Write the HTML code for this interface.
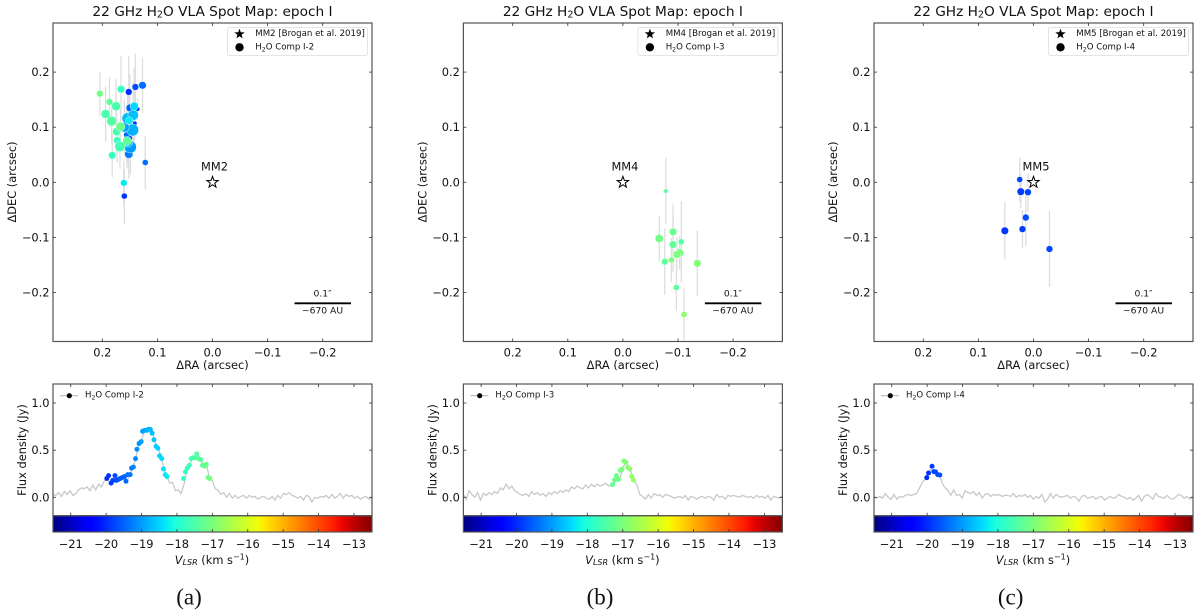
<!DOCTYPE html>
<html lang="en">
<head>
<meta charset="utf-8">
<title>22 GHz H2O VLA Spot Maps</title>
<style>
html,body{margin:0;padding:0;background:#fff;width:1200px;height:616px;overflow:hidden}
svg{display:block;filter:blur(.3px)}
text{font-family:"DejaVu Sans","Liberation Sans",sans-serif;fill:#111}
.title{font-size:13.7px;text-anchor:middle;dominant-baseline:central}
.lab{font-size:11.4px;text-anchor:middle;dominant-baseline:central}
.tick{font-size:11.4px;dominant-baseline:central}
.leg{font-size:8.6px;dominant-baseline:central}
.scale{font-size:9.2px;text-anchor:middle;dominant-baseline:central}
.cap{font-family:"Liberation Serif",serif;font-size:23px;text-anchor:middle;dominant-baseline:central}
.frame{fill:none;stroke:#555;stroke-width:1.2}
</style>
</head>
<body>
<svg id="figure" xmlns="http://www.w3.org/2000/svg" width="1200" height="616" viewBox="0 0 1200 616">
<defs><linearGradient id="jetGrad" x1="0" x2="1" y1="0" y2="0"></linearGradient></defs>

<g id="panel-a">
  <text class="title" x="212.5" y="12">22 GHz H<tspan dy="2.5" font-size="9.6">2</tspan><tspan dy="-2.5">O VLA Spot Map: epoch I</tspan></text>
  <g class="marks"></g>
  <rect class="frame" x="53" y="23" width="319" height="318.5"/>
  <line x1="294.5" x2="351" y1="303.3" y2="303.3" stroke="#000" stroke-width="1.9"/>
  <text class="scale" x="322.5" y="294">0.1″</text>
  <text class="scale" x="322.5" y="311">~670 AU</text>
  <text class="lab" x="214.5" y="166.7">MM2</text>
  <g>
    <rect x="227.5" y="27.5" width="140" height="28" rx="2" fill="#fff" fill-opacity=".85" stroke="#ddd" stroke-width=".8"/>
    <polygon transform="translate(239.5,34)" points="0,-5.4 1.3,-1.7 5.2,-1.6 2.1,.7 3.1,4.4 0,2.2 -3.1,4.4 -2.1,.7 -5.2,-1.6 -1.3,-1.7" fill="#000"/>
    <text class="leg" x="255.3" y="34">MM2 [Brogan et al. 2019]</text>
    <circle cx="239.5" cy="47.3" r="4.2" fill="#000"/>
    <text class="leg" x="255.3" y="47.3">H<tspan dy="2" font-size="6.2">2</tspan><tspan dy="-2">O Comp I-2</tspan></text>
  </g>
  <text class="lab" x="212.5" y="365">ΔRA (arcsec)</text>
  <text class="lab" transform="translate(12,182) rotate(-90)">ΔDEC (arcsec)</text>
  <rect x="53" y="515.7" width="319" height="16.3" fill="url(#jetGrad)"/>
  <g class="spec"></g>
  <rect class="frame" x="53" y="384" width="319" height="131.7"/>
  <rect class="frame" x="53" y="515.7" width="319" height="16.3"/>
  <g>
    <line x1="60" x2="78" y1="395.7" y2="395.7" stroke="#bbb" stroke-width="1.1"/>
    <circle cx="69.3" cy="395.7" r="2.6" fill="#000"/>
    <text class="leg" x="85" y="395.7">H<tspan dy="2" font-size="6.2">2</tspan><tspan dy="-2">O Comp I-2</tspan></text>
  </g>
  <text class="lab" transform="translate(22,450) rotate(-90)">Flux density (Jy)</text>
  <text class="lab" x="212" y="560"><tspan font-style="italic">V</tspan><tspan font-style="italic" font-size="8" dy="2">LSR</tspan><tspan dy="-2"> (km s</tspan><tspan font-size="8" dy="-3.5">−1</tspan><tspan dy="3.5">)</tspan></text>
  <text class="cap" x="189" y="597">(a)</text>
</g>

<g id="panel-b" transform="translate(410.4,0)">
  <text class="title" x="212.5" y="12">22 GHz H<tspan dy="2.5" font-size="9.6">2</tspan><tspan dy="-2.5">O VLA Spot Map: epoch I</tspan></text>
  <g class="marks"></g>
  <rect class="frame" x="53" y="23" width="319" height="318.5"/>
  <line x1="294.5" x2="351" y1="303.3" y2="303.3" stroke="#000" stroke-width="1.9"/>
  <text class="scale" x="322.5" y="294">0.1″</text>
  <text class="scale" x="322.5" y="311">~670 AU</text>
  <text class="lab" x="214.5" y="166.7">MM4</text>
  <g>
    <rect x="227.5" y="27.5" width="140" height="28" rx="2" fill="#fff" fill-opacity=".85" stroke="#ddd" stroke-width=".8"/>
    <polygon transform="translate(239.5,34)" points="0,-5.4 1.3,-1.7 5.2,-1.6 2.1,.7 3.1,4.4 0,2.2 -3.1,4.4 -2.1,.7 -5.2,-1.6 -1.3,-1.7" fill="#000"/>
    <text class="leg" x="255.3" y="34">MM4 [Brogan et al. 2019]</text>
    <circle cx="239.5" cy="47.3" r="4.2" fill="#000"/>
    <text class="leg" x="255.3" y="47.3">H<tspan dy="2" font-size="6.2">2</tspan><tspan dy="-2">O Comp I-3</tspan></text>
  </g>
  <text class="lab" x="212.5" y="365">ΔRA (arcsec)</text>
  <text class="lab" transform="translate(12,182) rotate(-90)">ΔDEC (arcsec)</text>
  <rect x="53" y="515.7" width="319" height="16.3" fill="url(#jetGrad)"/>
  <g class="spec"></g>
  <rect class="frame" x="53" y="384" width="319" height="131.7"/>
  <rect class="frame" x="53" y="515.7" width="319" height="16.3"/>
  <g>
    <line x1="60" x2="78" y1="395.7" y2="395.7" stroke="#bbb" stroke-width="1.1"/>
    <circle cx="69.3" cy="395.7" r="2.6" fill="#000"/>
    <text class="leg" x="85" y="395.7">H<tspan dy="2" font-size="6.2">2</tspan><tspan dy="-2">O Comp I-3</tspan></text>
  </g>
  <text class="lab" transform="translate(22,450) rotate(-90)">Flux density (Jy)</text>
  <text class="lab" x="212" y="560"><tspan font-style="italic">V</tspan><tspan font-style="italic" font-size="8" dy="2">LSR</tspan><tspan dy="-2"> (km s</tspan><tspan font-size="8" dy="-3.5">−1</tspan><tspan dy="3.5">)</tspan></text>
  <text class="cap" x="189.6" y="597">(b)</text>
</g>

<g id="panel-c" transform="translate(821,0)">
  <text class="title" x="212.5" y="12">22 GHz H<tspan dy="2.5" font-size="9.6">2</tspan><tspan dy="-2.5">O VLA Spot Map: epoch I</tspan></text>
  <g class="marks"></g>
  <rect class="frame" x="53" y="23" width="319" height="318.5"/>
  <line x1="294.5" x2="351" y1="303.3" y2="303.3" stroke="#000" stroke-width="1.9"/>
  <text class="scale" x="322.5" y="294">0.1″</text>
  <text class="scale" x="322.5" y="311">~670 AU</text>
  <text class="lab" x="215" y="166.7">MM5</text>
  <g>
    <rect x="227.5" y="27.5" width="140" height="28" rx="2" fill="#fff" fill-opacity=".85" stroke="#ddd" stroke-width=".8"/>
    <polygon transform="translate(239.5,34)" points="0,-5.4 1.3,-1.7 5.2,-1.6 2.1,.7 3.1,4.4 0,2.2 -3.1,4.4 -2.1,.7 -5.2,-1.6 -1.3,-1.7" fill="#000"/>
    <text class="leg" x="255.3" y="34">MM5 [Brogan et al. 2019]</text>
    <circle cx="239.5" cy="47.3" r="4.2" fill="#000"/>
    <text class="leg" x="255.3" y="47.3">H<tspan dy="2" font-size="6.2">2</tspan><tspan dy="-2">O Comp I-4</tspan></text>
  </g>
  <text class="lab" x="212.5" y="365">ΔRA (arcsec)</text>
  <text class="lab" transform="translate(12,182) rotate(-90)">ΔDEC (arcsec)</text>
  <rect x="53" y="515.7" width="319" height="16.3" fill="url(#jetGrad)"/>
  <g class="spec"></g>
  <rect class="frame" x="53" y="384" width="319" height="131.7"/>
  <rect class="frame" x="53" y="515.7" width="319" height="16.3"/>
  <g>
    <line x1="60" x2="78" y1="395.7" y2="395.7" stroke="#bbb" stroke-width="1.1"/>
    <circle cx="69.3" cy="395.7" r="2.6" fill="#000"/>
    <text class="leg" x="85" y="395.7">H<tspan dy="2" font-size="6.2">2</tspan><tspan dy="-2">O Comp I-4</tspan></text>
  </g>
  <text class="lab" transform="translate(22,450) rotate(-90)">Flux density (Jy)</text>
  <text class="lab" x="212" y="560"><tspan font-style="italic">V</tspan><tspan font-style="italic" font-size="8" dy="2">LSR</tspan><tspan dy="-2"> (km s</tspan><tspan font-size="8" dy="-3.5">−1</tspan><tspan dy="3.5">)</tspan></text>
  <text class="cap" x="189.6" y="597">(c)</text>
</g>
</svg>

<script>
// Tick values and labels
const mapTicks = [0.2, 0.1, 0, -0.1, -0.2];
const mapTickLabels = ['0.2', '0.1', '0.0', '−0.1', '−0.2'];
const fluxTicks = [0, 0.5, 1];
const fluxTickLabels = ['0.0', '0.5', '1.0'];
const velocityTicks = [-21, -20, -19, -18, -17, -16, -15, -14, -13];
const velocityTickLabels = ['−21', '−20', '−19', '−18', '−17', '−16', '−15', '−14', '−13'];

// Panel (a) spots: offset (arcsec), uncertainty, flux (Jy), velocity (km/s)
const spotRaA = [.136,.141,.150,.152,.160,.150,.140,.127,.122,.156,.152,.149,.153,.145,.160,.154,.144,.142,.151,.161,.166,.173,.182,.168,.174,.175,.194,.183,.187,.155,.167,.2045];
const spotDecA = [.133,.107,.080,.164,-.025,.135,.173,.176,.036,.086,.051,.064,.072,.095,.100,.116,.122,.138,.112,-.001,.169,.076,.049,.065,.092,.138,.124,.111,.146,.075,.101,.161];
const spotErrA = [.02,.03,.03,.065,.05,.06,.06,.05,.048,.05,.045,.05,.04,.05,.05,.05,.06,.07,.04,.04,.06,.04,.04,.04,.04,.05,.05,.04,.045,.05,.04,.04];
const spotFluxA = [.10,.10,.14,.234,.185,.29,.234,.29,.185,.185,.35,.74,.416,.74,.49,.65,.567,.35,.29,.234,.29,.29,.29,.567,.35,.416,.416,.49,.234,.416,.416,.234];
const spotVelA = [-20,-19.95,-19.85,-19.95,-19.9,-19.5,-19.7,-19.4,-19.4,-19.4,-19.3,-19,-18.75,-18.8,-18.95,-18.7,-18.7,-18.45,-18.3,-18.3,-17.8,-17.7,-17.75,-17.6,-17.55,-17.55,-17.55,-17.45,-17.35,-17.3,-17.2,-17.1];

// Panel (b) spots
const spotRaB = [-.078,-.066,-.091,-.091,-.106,-.103,-.098,-.088,-.076,-.135,-.097,-.111];
const spotDecB = [-.016,-.102,-.090,-.113,-.108,-.128,-.131,-.141,-.144,-.147,-.191,-.240];
const spotErrB = [.06,.042,.05,.05,.074,.03,.03,.04,.06,.059,.043,.047];
const spotFluxB = [.10,.35,.29,.29,.185,.35,.29,.185,.234,.29,.185,.185];
const spotVelB = [-17.4,-17.1,-17.2,-17.3,-17.45,-17.05,-17,-17,-17.3,-16.95,-17.35,-16.8];

// Panel (c) spots
const spotRaC = [.025,.023,.010,.014,.020,.052,-.029];
const spotDecC = [.005,-.017,-.018,-.064,-.085,-.088,-.121];
const spotErrC = [.04,.03,.035,.052,.035,.052,.069];
const spotFluxC = [.185,.29,.234,.234,.234,.29,.234];
const spotVelC = [-19.75,-19.85,-19.8,-19.7,-19.85,-19.9,-19.75];

// Spectra: evenly spaced channels from -21.5 to -12.5 km/s
const spectrumA = [.03,.02,.05,.01,.06,.03,.07,.02,.04,.08,.10,.09,.11,.07,.13,.08,.14,.11,.17,.20,.16,.18,.22,.19,.20,.22,.17,.24,.31,.40,.54,.59,.70,.71,.72,.68,.58,.52,.43,.30,.23,.15,.16,.07,.08,.04,.13,.28,.34,.41,.42,.44,.40,.34,.34,.20,.18,.09,.08,.03,.05,0,.04,-.01,.02,-.01,.01,.02,-.01,.02,0,.01,-.02,0,.01,-.01,-.02,.01,-.03,.02,-.01,.04,.03,.05,.02,.01,-.01,.01,-.03,.02,.01,-.05,0,-.01,.01,0,.02,-.01,.03,-.01,.01,.04,-.01,.03,.01,.02,-.01,.01,-.02,0,.01,-.02,-.01];
const spectrumB = [.03,-.02,.07,.03,0,.05,-.03,.04,.02,.05,.03,.06,.04,.10,.08,.14,.09,.12,.07,.05,.03,.02,.04,.01,.06,.03,.05,.02,.04,.01,.05,.03,.06,.04,.07,.05,.08,.06,.11,.09,.12,.10,.09,.13,.10,.14,.11,.14,.12,.13,.15,.12,.14,.15,.23,.20,.30,.38,.32,.26,.18,.13,.03,.01,-.02,.03,-.01,.04,.02,.03,0,.03,.02,.01,-.01,0,.01,-.01,.02,-.03,.01,0,-.02,0,.01,-.01,.01,0,-.03,.03,0,.01,-.02,.02,.01,.02,.01,0,.02,.01,0,.01,-.01,.02,0,.01,-.01,.02,-.03,.01,0,-.01,.01];
const spectrumC = [0,-.01,.01,-.01,.04,0,-.02,.03,-.02,.01,0,.02,.03,.02,.03,.04,.10,.16,.19,.25,.30,.27,.25,.24,.15,.10,.07,.02,.08,.02,.03,-.01,.07,.05,.04,.06,.02,.05,-.01,.03,.04,.01,.03,.02,.03,.01,.02,.02,.01,.04,0,.02,.01,.03,0,.02,-.02,.01,-.01,.03,-.05,-.02,.04,-.01,.03,.01,0,.01,.02,-.01,.01,0,-.04,.01,.02,-.01,0,.01,-.02,0,.01,-.03,-.01,.01,-.01,0,.03,.01,0,-.02,0,-.03,-.01,.02,-.04,.01,.03,.01,-.02,.04,.01,0,-.01,.02,-.01,-.02,0,.03,.02,-.01,.01,-.02,0];

// Channels flagged as maser spots on each spectrum
const peakVelA = [-19.98,-19.93,-19.86,-19.81,-19.75,-19.71,-19.65,-19.60,-19.54,-19.48,-19.44,-19.39,-19.32,-19.28,-19.23,-19.17,-19.13,-19.07,-19.01,-18.97,-18.91,-18.85,-18.81,-18.75,-18.70,-18.65,-18.59,-18.54,-18.49,-18.43,-18.38,-18.33,-18.28,-17.81,-17.76,-17.71,-17.65,-17.60,-17.55,-17.49,-17.44,-17.39,-17.33,-17.28,-17.22,-17.17,-17.12,-17.07];
const peakFluxA = [.20,.23,.15,.18,.23,.18,.19,.20,.21,.22,.17,.24,.24,.31,.32,.41,.51,.57,.59,.70,.71,.71,.72,.72,.68,.61,.54,.52,.44,.41,.30,.24,.22,.20,.27,.31,.34,.41,.42,.42,.46,.41,.40,.34,.33,.35,.21,.20];
const peakVelB = [-17.29,-17.23,-17.18,-17.12,-17.07,-17.02,-16.97,-16.91,-16.86,-16.80,-16.75,-16.70];
const peakFluxB = [.134,.184,.23,.19,.286,.297,.385,.371,.318,.30,.22,.184];
const peakVelC = [-20.01,-19.96,-19.86,-19.81,-19.76,-19.70,-19.64];
const peakFluxC = [.208,.258,.329,.272,.269,.24,.237];

// Axis functions (panel-local pixels)
const mapX = ra => 212.5 - 551 * ra;
const mapY = dec => 182.3 - 551 * dec;
const specX = v => 53 + (v + 21.5) * 35.41;
const specY = f => 497.3 - 94.3 * f;
const spotRadius = f => 7 * Math.sqrt(f);

const SVGNS = 'http://www.w3.org/2000/svg';
function mk(parent, tag, attrs) {
  const el = document.createElementNS(SVGNS, tag);
  for (const k in attrs) el.setAttribute(k, attrs[k]);
  parent.appendChild(el);
  return el;
}
function seg(stops, t) {
  for (let i = 1; i < stops.length; i++) {
    if (t <= stops[i][0]) {
      const a = stops[i - 1], b = stops[i];
      return a[1] + (b[1] - a[1]) * (t - a[0]) / (b[0] - a[0]);
    }
  }
  return stops[stops.length - 1][1];
}
const jetR = [[0,0],[.35,0],[.66,1],[.89,1],[1,.5]];
const jetG = [[0,0],[.125,0],[.375,1],[.64,1],[.91,0],[1,0]];
const jetB = [[0,.5],[.11,1],[.34,1],[.65,0],[1,0]];
function jet(t) {
  const c = x => Math.round(255 * x);
  return 'rgb(' + c(seg(jetR, t)) + ',' + c(seg(jetG, t)) + ',' + c(seg(jetB, t)) + ')';
}
const velColor = v => jet((v + 21.5) / 9);

const grad = document.getElementById('jetGrad');
for (let i = 0; i <= 50; i++) {
  mk(grad, 'stop', { offset: i / 50, 'stop-color': jet(i / 50) });
}

function drawMap(panel, ra, dec, err, flux, vel) {
  const g = panel.querySelector('.marks');
  ra.forEach((r, i) => {
    const bar = mk(g, 'line', { x1: mapX(r), x2: mapX(r), y1: mapY(dec[i] + err[i]), y2: mapY(dec[i] - err[i]), stroke: '#dedede', 'stroke-width': 1.3 });
    
    
  });
  ra.forEach((r, i) => {
    const dot = mk(g, 'circle', { cx: mapX(r), cy: mapY(dec[i]), r: spotRadius(flux[i]), fill: velColor(vel[i]), stroke: '#fff', 'stroke-width': .4 });
    
    
  });
  const star = mk(g, 'polygon', { points: '0,-6 1.45,-1.95 5.7,-1.85 2.3,.75 3.5,4.85 0,2.4 -3.5,4.85 -2.3,.75 -5.7,-1.85 -1.45,-1.95', fill: '#fff', stroke: '#000', 'stroke-width': 1, transform: 'translate(' + mapX(0) + ',' + mapY(0) + ')' });
  
  

  mapTicks.forEach((t, i) => {
    const x = mapX(t), y = mapY(t);
    [[x, 341.5, x, 338.5], [x, 23, x, 26], [53, y, 56, y], [372, y, 369, y]].forEach(p => {
      const tick = mk(panel, 'line', { x1: p[0], y1: p[1], x2: p[2], y2: p[3], stroke: '#333', 'stroke-width': .8 });
      
      
    });
    const xl = mk(panel, 'text', { class: 'tick', x: x, y: 352.5, 'text-anchor': 'middle' });
    xl.textContent = mapTickLabels[i];
    
    
    const yl = mk(panel, 'text', { class: 'tick', x: 49.5, y: y, 'text-anchor': 'end' });
    yl.textContent = mapTickLabels[i];
    
    
  });
}

function drawSpectrum(panel, spectrum, peakVel, peakFlux) {
  const g = panel.querySelector('.spec');
  const pts = spectrum.map((f, i) => specX(-21.5 + 9 * i / (spectrum.length - 1)).toFixed(1) + ',' + specY(f).toFixed(1)).join(' ');
  const line = mk(g, 'polyline', { points: pts, fill: 'none', stroke: '#c9c9c9', 'stroke-width': 1.3 });
  
  
  peakVel.forEach((v, i) => {
    const dot = mk(g, 'circle', { cx: specX(v), cy: specY(peakFlux[i]), r: 2.5, fill: velColor(v) });
    
    
  });
  fluxTicks.forEach((t, i) => {
    const y = specY(t);
    [[53, 56], [372, 369]].forEach(p => {
      const tick = mk(panel, 'line', { x1: p[0], x2: p[1], y1: y, y2: y, stroke: '#333', 'stroke-width': .8 });
      
      
    });
    const l = mk(panel, 'text', { class: 'tick', x: 49.5, y: y, 'text-anchor': 'end' });
    l.textContent = fluxTickLabels[i];
    
    
  });
  velocityTicks.forEach((t, i) => {
    const x = specX(t);
    [[384, 387], [515.7, 512.7], [532, 529]].forEach(p => {
      const tick = mk(panel, 'line', { x1: x, x2: x, y1: p[0], y2: p[1], stroke: '#333', 'stroke-width': .8 });
      
      
    });
    const l = mk(panel, 'text', { class: 'tick', x: x, y: 544, 'text-anchor': 'middle' });
    l.textContent = velocityTickLabels[i];
    
    
  });
}

const panelA = document.getElementById('panel-a');
const panelB = document.getElementById('panel-b');
const panelC = document.getElementById('panel-c');
drawMap(panelA, spotRaA, spotDecA, spotErrA, spotFluxA, spotVelA);
drawMap(panelB, spotRaB, spotDecB, spotErrB, spotFluxB, spotVelB);
drawMap(panelC, spotRaC, spotDecC, spotErrC, spotFluxC, spotVelC);
drawSpectrum(panelA, spectrumA, peakVelA, peakFluxA);
drawSpectrum(panelB, spectrumB, peakVelB, peakFluxB);
drawSpectrum(panelC, spectrumC, peakVelC, peakFluxC);
</script>
</body>
</html>
